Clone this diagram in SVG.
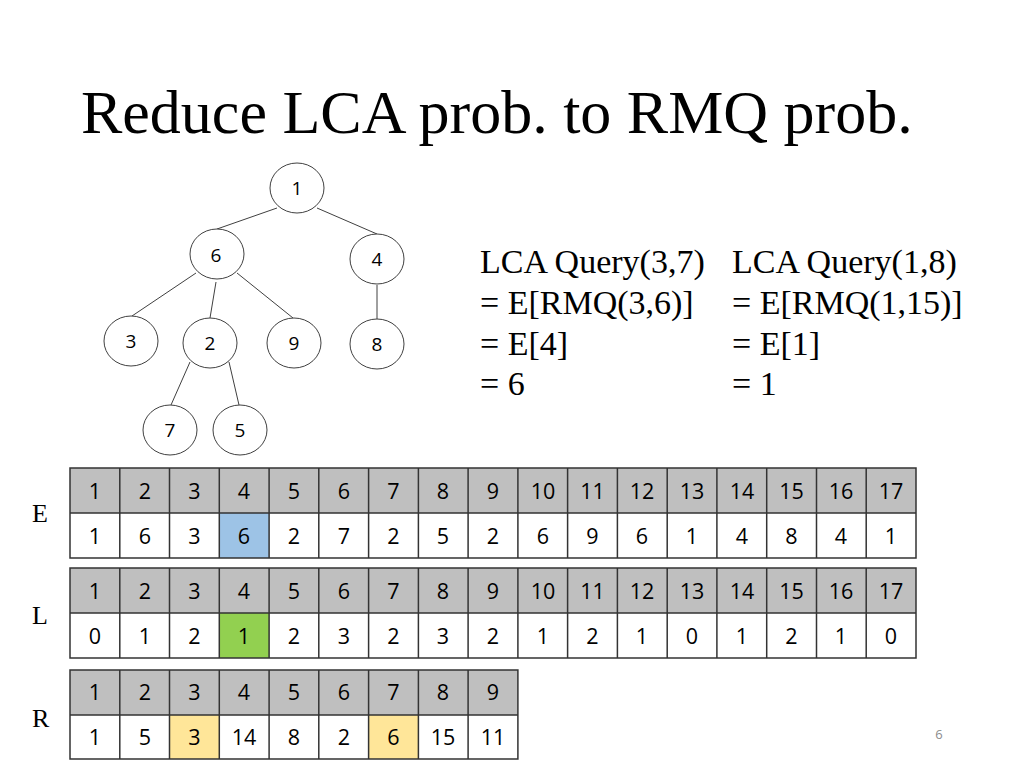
<svg xmlns="http://www.w3.org/2000/svg" width="1024" height="768" viewBox="0 0 1024 768">
<style>
.title{font-family:"Liberation Serif","Times New Roman",serif;font-size:62px;fill:#000}
.q{font-family:"Liberation Serif","Times New Roman",serif;font-size:34px;fill:#000}
.lab{font-family:"Liberation Serif","Times New Roman",serif;font-size:26px;fill:#000}
.node ellipse{fill:#fff;stroke:#404040;stroke-width:1}
.node text{font-family:"Open Sans","Noto Sans",sans-serif;font-size:19px;fill:#000;text-anchor:middle}
.edge{stroke:#404040;stroke-width:1;fill:none}
.hdr{fill:#BFBFBF}
.body{fill:#fff}
.grid{stroke:#333;stroke-width:1.5;fill:none}
.c{font-family:"Open Sans","Noto Sans",sans-serif;font-size:21.5px;fill:#000;text-anchor:middle}
.pg{font-family:"Open Sans","Noto Sans",sans-serif;font-size:13px;fill:#8c8c8c;text-anchor:middle}
</style>
<rect width="1024" height="768" fill="#fff"/>
<text class="title" x="81" y="133">Reduce LCA prob. to RMQ prob.</text>

<g id="connectors">
<line class="edge" x1="277" y1="208" x2="217" y2="229"/>
<line class="edge" x1="317" y1="208" x2="377" y2="234"/>
<line class="edge" x1="196" y1="273" x2="132" y2="316"/>
<line class="edge" x1="216" y1="282" x2="210" y2="318"/>
<line class="edge" x1="237" y1="273" x2="293" y2="318"/>
<line class="edge" x1="377" y1="285" x2="377" y2="319"/>
<line class="edge" x1="190" y1="362" x2="171" y2="405"/>
<line class="edge" x1="229" y1="362" x2="239" y2="405"/>
</g>

<g id="n1" class="node"><ellipse cx="297" cy="188" rx="27" ry="25"/><text x="297" y="195">1</text></g>
<g id="n6" class="node"><ellipse cx="217" cy="254" rx="27" ry="25"/><text x="216" y="262">6</text></g>
<g id="n4" class="node"><ellipse cx="377" cy="259" rx="27" ry="25"/><text x="377" y="266">4</text></g>
<g id="n3" class="node"><ellipse cx="131" cy="341" rx="27" ry="25"/><text x="131" y="348">3</text></g>
<g id="n2" class="node"><ellipse cx="210" cy="343" rx="27" ry="25"/><text x="210" y="350">2</text></g>
<g id="n9" class="node"><ellipse cx="294" cy="343" rx="27" ry="25"/><text x="294" y="350">9</text></g>
<g id="n8" class="node"><ellipse cx="377" cy="344" rx="27" ry="25"/><text x="377" y="351">8</text></g>
<g id="n7" class="node"><ellipse cx="170" cy="430" rx="27" ry="25"/><text x="170" y="437">7</text></g>
<g id="n5" class="node"><ellipse cx="240" cy="430" rx="27" ry="25"/><text x="240" y="437">5</text></g>

<g id="queries">
<text class="q" x="480" y="273">LCA Query(3,7)</text>
<text class="q" x="480" y="314">= E[RMQ(3,6)]</text>
<text class="q" x="480" y="355">= E[4]</text>
<text class="q" x="480" y="395">= 6</text>
<text class="q" x="732" y="273">LCA Query(1,8)</text>
<text class="q" x="732" y="314">= E[RMQ(1,15)]</text>
<text class="q" x="732" y="355">= E[1]</text>
<text class="q" x="732" y="395">= 1</text>
</g>

<g id="tableE">
<text class="lab" x="32" y="522">E</text>
<rect class="hdr" x="70" y="468" width="846" height="45"/>
<rect class="body" x="70" y="513" width="846" height="45"/>
<rect x="219.3" y="513" width="49.8" height="45" fill="#9DC3E6"/>
<path class="grid" d="M70 468H916V558H70Z M70 513H916 M119.8 468V558 M169.5 468V558 M219.3 468V558 M269.1 468V558 M318.8 468V558 M368.6 468V558 M418.4 468V558 M468.1 468V558 M517.9 468V558 M567.6 468V558 M617.4 468V558 M667.2 468V558 M716.9 468V558 M766.7 468V558 M816.5 468V558 M866.2 468V558"/>
<text class="c" y="498.5"><tspan x="95">1</tspan><tspan x="145">2</tspan><tspan x="194.5">3</tspan><tspan x="244">4</tspan><tspan x="294">5</tspan><tspan x="344">6</tspan><tspan x="393.5">7</tspan><tspan x="443">8</tspan><tspan x="493">9</tspan><tspan x="543">10</tspan><tspan x="592.5">11</tspan><tspan x="642">12</tspan><tspan x="692">13</tspan><tspan x="742">14</tspan><tspan x="791.5">15</tspan><tspan x="841">16</tspan><tspan x="891">17</tspan></text>
<text class="c" y="543.5"><tspan x="95">1</tspan><tspan x="145">6</tspan><tspan x="194.5">3</tspan><tspan x="244">6</tspan><tspan x="294">2</tspan><tspan x="344">7</tspan><tspan x="393.5">2</tspan><tspan x="443">5</tspan><tspan x="493">2</tspan><tspan x="543">6</tspan><tspan x="592.5">9</tspan><tspan x="642">6</tspan><tspan x="692">1</tspan><tspan x="742">4</tspan><tspan x="791.5">8</tspan><tspan x="841">4</tspan><tspan x="891">1</tspan></text>
</g>

<g id="tableL">
<text class="lab" x="32" y="624">L</text>
<rect class="hdr" x="70" y="568" width="846" height="45"/>
<rect class="body" x="70" y="613" width="846" height="45"/>
<rect x="219.3" y="613" width="49.8" height="45" fill="#92D050"/>
<path class="grid" d="M70 568H916V658H70Z M70 613H916 M119.8 568V658 M169.5 568V658 M219.3 568V658 M269.1 568V658 M318.8 568V658 M368.6 568V658 M418.4 568V658 M468.1 568V658 M517.9 568V658 M567.6 568V658 M617.4 568V658 M667.2 568V658 M716.9 568V658 M766.7 568V658 M816.5 568V658 M866.2 568V658"/>
<text class="c" y="598.5"><tspan x="95">1</tspan><tspan x="145">2</tspan><tspan x="194.5">3</tspan><tspan x="244">4</tspan><tspan x="294">5</tspan><tspan x="344">6</tspan><tspan x="393.5">7</tspan><tspan x="443">8</tspan><tspan x="493">9</tspan><tspan x="543">10</tspan><tspan x="592.5">11</tspan><tspan x="642">12</tspan><tspan x="692">13</tspan><tspan x="742">14</tspan><tspan x="791.5">15</tspan><tspan x="841">16</tspan><tspan x="891">17</tspan></text>
<text class="c" y="643.5"><tspan x="95">0</tspan><tspan x="145">1</tspan><tspan x="194.5">2</tspan><tspan x="244">1</tspan><tspan x="294">2</tspan><tspan x="344">3</tspan><tspan x="393.5">2</tspan><tspan x="443">3</tspan><tspan x="493">2</tspan><tspan x="543">1</tspan><tspan x="592.5">2</tspan><tspan x="642">1</tspan><tspan x="692">0</tspan><tspan x="742">1</tspan><tspan x="791.5">2</tspan><tspan x="841">1</tspan><tspan x="891">0</tspan></text>
</g>

<g id="tableR">
<text class="lab" x="32" y="727">R</text>
<rect class="hdr" x="70" y="670" width="447.9" height="45"/>
<rect class="body" x="70" y="715" width="447.9" height="44"/>
<rect x="169.5" y="715" width="49.8" height="44" fill="#FFE699"/>
<rect x="368.6" y="715" width="49.8" height="44" fill="#FFE699"/>
<path class="grid" d="M70 670H517.9V759H70Z M70 715H517.9 M119.8 670V759 M169.5 670V759 M219.3 670V759 M269.1 670V759 M318.8 670V759 M368.6 670V759 M418.4 670V759 M468.1 670V759"/>
<text class="c" y="700"><tspan x="95">1</tspan><tspan x="145">2</tspan><tspan x="194.5">3</tspan><tspan x="244">4</tspan><tspan x="294">5</tspan><tspan x="344">6</tspan><tspan x="393.5">7</tspan><tspan x="443">8</tspan><tspan x="493">9</tspan></text>
<text class="c" y="744.5"><tspan x="95">1</tspan><tspan x="145">5</tspan><tspan x="194.5">3</tspan><tspan x="244">14</tspan><tspan x="294">8</tspan><tspan x="344">2</tspan><tspan x="393.5">6</tspan><tspan x="443">15</tspan><tspan x="493">11</tspan></text>
</g>

<text class="pg" x="939" y="739">6</text>
</svg>
